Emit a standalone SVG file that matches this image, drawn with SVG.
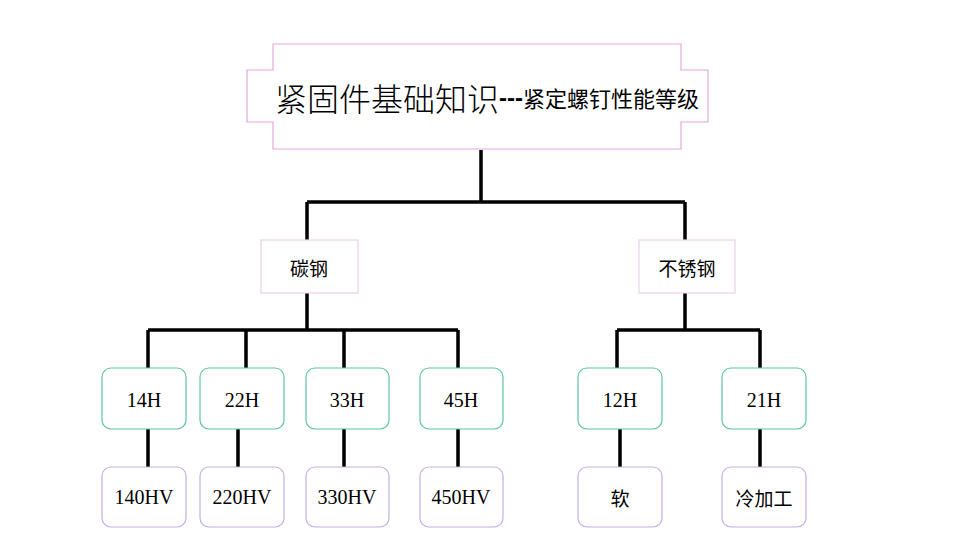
<svg xmlns="http://www.w3.org/2000/svg" width="960" height="552" viewBox="0 0 960 552">
<style>
.t{font-family:"Noto Sans CJK SC","Liberation Serif",sans-serif;fill:#000;text-anchor:middle;dominant-baseline:central}
.s{font-family:"Liberation Serif",serif;fill:#000;text-anchor:middle;dominant-baseline:central;font-size:20px}
.g{fill:#fff;stroke:#5cc4a4;stroke-width:1.2}
.p{fill:#fff;stroke:#c4b0e4;stroke-width:1.2}
.c{fill:#fff;stroke:#ecd0e4;stroke-width:1.2}
#conn path{fill:none;stroke:#000;stroke-width:3.5}
</style>
<rect width="960" height="552" fill="#fff"/>
<g id="conn">
<path d="M481 150V202M307 202H685M307 202V240M685 202V240M307 293V330M148 330H458M148 330V368M246 330V368M344 330V368M458 330V368M685 293V330M617 330H760M617 330V368M760 330V368M148 429V467M238 429V467M344 429V467M458 429V467M620 429V467M760 429V467"/>
</g>
<g id="title">
<path d="M273 44H681V70H708V122H681V149H273V122H247V70H273Z" fill="#fff" stroke="#e4a8dc" stroke-width="1.2"/>
<text class="t" x="487" y="97"><tspan font-size="32" font-weight="300">紧固件基础知识</tspan><tspan font-size="24" font-family="Liberation Sans" font-weight="bold">---</tspan><tspan font-size="22">紧定螺钉性能等级</tspan></text>
</g>
<g id="carbon"><rect class="c" x="261" y="240" width="97" height="53"/><text class="t" x="309" y="267" font-size="19">碳钢</text></g>
<g id="stainless"><rect class="c" x="639" y="240" width="96" height="53"/><text class="t" x="687" y="267" font-size="19">不锈钢</text></g>
<g id="n14H"><rect class="g" x="102" y="368" width="84" height="61" rx="9"/><text class="s" x="144" y="400">14H</text></g>
<g id="n22H"><rect class="g" x="200" y="368" width="84" height="61" rx="9"/><text class="s" x="242" y="400">22H</text></g>
<g id="n33H"><rect class="g" x="306" y="368" width="83" height="61" rx="9"/><text class="s" x="347" y="400">33H</text></g>
<g id="n45H"><rect class="g" x="420" y="368" width="83" height="61" rx="9"/><text class="s" x="461" y="400">45H</text></g>
<g id="n12H"><rect class="g" x="578" y="368" width="84" height="61" rx="9"/><text class="s" x="620" y="400">12H</text></g>
<g id="n21H"><rect class="g" x="722" y="368" width="84" height="61" rx="9"/><text class="s" x="764" y="400">21H</text></g>
<g id="n140"><rect class="p" x="102" y="467" width="84" height="60" rx="9"/><text class="s" x="144" y="497">140HV</text></g>
<g id="n220"><rect class="p" x="200" y="467" width="84" height="60" rx="9"/><text class="s" x="242" y="497">220HV</text></g>
<g id="n330"><rect class="p" x="306" y="467" width="83" height="60" rx="9"/><text class="s" x="347" y="497">330HV</text></g>
<g id="n450"><rect class="p" x="420" y="467" width="83" height="60" rx="9"/><text class="s" x="461" y="497">450HV</text></g>
<g id="soft"><rect class="p" x="578" y="467" width="84" height="60" rx="9"/><text class="t" x="620" y="497" font-size="19">软</text></g>
<g id="cold"><rect class="p" x="722" y="467" width="84" height="60" rx="9"/><text class="t" x="764" y="497" font-size="19">冷加工</text></g>
</svg>
